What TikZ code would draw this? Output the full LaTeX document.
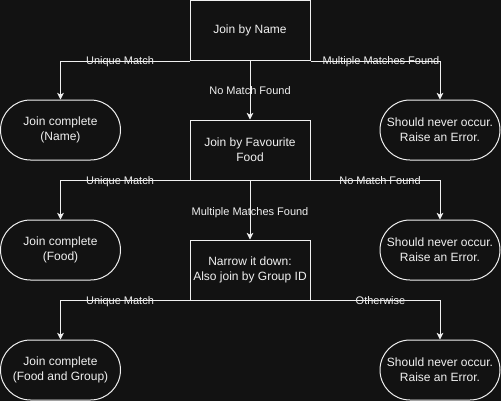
\documentclass[tikz,border=0pt]{standalone}
\usepackage{fontspec}
\setmainfont{Liberation Sans}
\usetikzlibrary{arrows.meta}
\definecolor{bg}{HTML}{121212}
\definecolor{fg}{HTML}{F0F0F0}
\begin{document}
\begin{tikzpicture}[x=0.75pt,y=-0.75pt,
  box/.style={draw=fg, line width=0.75pt, minimum width=90pt, minimum height=45pt,
    inner sep=0pt, text=fg, align=center, font=\fontsize{9pt}{11pt}\selectfont},
  term/.style={box, rounded corners=22.5pt},
  conn/.style={draw=fg, line width=0.75pt, -{Stealth[length=5pt,width=5pt,inset=1.3pt]}},
  lbl/.style={text=fg, font=\fontsize{8.25pt}{10pt}\selectfont, inner sep=0pt, anchor=base}]
\fill[bg] (0,0) rectangle (501,401);
\useasboundingbox (0,0) rectangle (501,401);

\node[box] (n1) at (250,30.5) {Join by Name};
\node[box] (n2) at (250,150) {Join by Favourite\\Food};
\node[box] (n3) at (250,270) {Narrow it down:\\Also join by Group ID};

\node[term] (t1) at (60.5,130) {Join complete\\(Name)};
\node[term] (t2) at (440,130) {Should never occur.\\Raise an Error.};
\node[term] (t3) at (60.5,250) {Join complete\\(Food)};
\node[term] (t4) at (440,250) {Should never occur.\\Raise an Error.};
\node[term] (t5) at (60.5,370) {Join complete\\(Food and Group)};
\node[term] (t6) at (440,370) {Should never occur.\\Raise an Error.};

\draw[conn] (n1.south west) -| (t1.north);
\draw[conn] (n1.south east) -| (t2.north);
\draw[conn] (n1.south) -- (n2.north);
\draw[conn] (n2.south west) -| (t3.north);
\draw[conn] (n2.south east) -| (t4.north);
\draw[conn] (n2.south) -- (n3.north);
\draw[conn] (n3.south west) -| (t5.north);
\draw[conn] (n3.south east) -| (t6.north);

\node[lbl] (l1) at (120,64.5) {Unique Match};
\node[lbl] (l2) at (381,64.5) {Multiple Matches Found};
\node[lbl] (l3) at (250,94) {No Match Found};
\node[lbl] (l4) at (120,184.5) {Unique Match};
\node[lbl] (l5) at (380,184.5) {No Match Found};
\node[lbl] (l6) at (250,215) {Multiple Matches Found};
\node[lbl] (l7) at (120,304.5) {Unique Match};
\node[lbl] (l8) at (380.5,304.5) {Otherwise};
\end{tikzpicture}
\end{document}
